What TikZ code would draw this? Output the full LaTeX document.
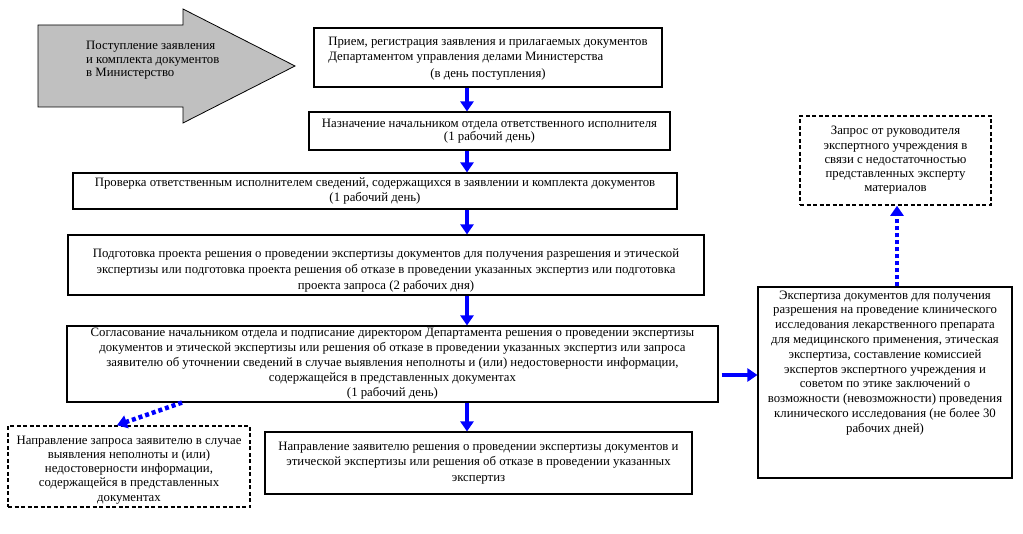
\documentclass[tikz,border=0pt]{standalone}
\usepackage{fontspec}
\setmainfont{Liberation Serif}
\usetikzlibrary{arrows.meta, calc}
\definecolor{flowblue}{RGB}{0, 0, 255}
\definecolor{arrowgray}{RGB}{192, 192, 192}
\tikzset{
  stepbox/.style={draw=black, line width=1.1pt, align=center, inner sep=2pt, font=\fontsize{12.8}{15}\selectfont},
  notebox/.style={stepbox, line width=1.6pt, dash pattern={on 4pt off 2.5pt}, font=\fontsize{12.8}{14.3}\selectfont},
  flowarrow/.style={-{Triangle[width=13pt, length=10pt]}, line width=4.5pt, flowblue},
  notearrow/.style={flowarrow, dash pattern={on 4pt off 3pt}}
}

\begin{document}
\begin{tikzpicture}[x=1pt, y=-1pt]
  \useasboundingbox (0,0) rectangle (1023,534);

  % Incoming documents
  \draw[fill=arrowgray, line width=0.8pt] (38,25) -- (183,25) -- (183,9) -- (295,66)
    -- (183,123) -- (183,107) -- (38,107) -- cycle;
  \node[anchor=west, align=left, inner sep=0pt, font=\fontsize{12.8}{13.5}\selectfont] (incoming) at (86,60.5) {
    Поступление заявления\\
    и комплекта документов\\
    в Министерство
  };

  % Main chain of steps
  \node[stepbox, minimum width=348pt, minimum height=59pt] (reception) at (488,57.5) {
    \begin{tabular}{@{}l@{}}
      Прием, регистрация заявления и прилагаемых документов\\
      Департаментом управления делами Министерства
    \end{tabular}\\[2pt]
    (в день поступления)
  };
  \node[stepbox, minimum width=361pt, minimum height=38pt, font=\fontsize{12.8}{13}\selectfont] (assign) at (489.5,131) {
    Назначение начальником отдела ответственного исполнителя\\
    (1 рабочий день)
  };
  \node[stepbox, minimum width=604pt, minimum height=36pt] (check) at (375,191) {
    Проверка ответственным исполнителем сведений, содержащихся в заявлении и комплекта документов\\
    (1 рабочий день)
  };
  \node[stepbox, minimum width=636pt, minimum height=60pt, font=\fontsize{12.8}{16}\selectfont] (draft) at (386,265) {
    \rule{0pt}{19pt}Подготовка проекта решения о проведении экспертизы документов для получения разрешения и этической\\
    экспертизы или подготовка проекта решения об отказе в проведении указанных экспертиз или подготовка\\
    проекта запроса (2 рабочих дня)
  };
  \node[stepbox, minimum width=651pt, minimum height=76pt] (approve) at (392.5,364) {
    Согласование начальником отдела и подписание директором Департамента решения о проведении экспертизы\\
    документов и этической экспертизы или решения об отказе в проведении указанных экспертиз или запроса\\
    заявителю об уточнении сведений в случае выявления неполноты и (или) недостоверности информации,\\
    содержащейся в представленных документах\\
    (1 рабочий день)
  };
  \node[stepbox, minimum width=427pt, minimum height=62pt, font=\fontsize{12.8}{15.5}\selectfont] (notify) at (478.5,463) {
    Направление заявителю решения о проведении экспертизы документов и\\
    этической экспертизы или решения об отказе в проведении указанных\\
    экспертиз
  };

  % Side branches
  \node[notebox, minimum width=242pt, minimum height=81pt] (request) at (129,466.5) {
    \rule{0pt}{15pt}Направление запроса заявителю в случае\\
    выявления неполноты и (или)\\
    недостоверности информации,\\
    содержащейся в представленных\\
    документах
  };
  \node[stepbox, minimum width=254pt, minimum height=191pt,
    label={[anchor=north, align=center, inner sep=2pt, yshift=-2pt, font=\fontsize{12.8}{14.8}\selectfont]north:{
      Экспертиза документов для получения\\
      разрешения на проведение клинического\\
      исследования лекарственного препарата\\
      для медицинского применения, этическая\\
      экспертиза, составление комиссией\\
      экспертов экспертного учреждения и\\
      советом по этике заключений о\\
      возможности (невозможности) проведения\\
      клинического исследования (не более 30\\
      рабочих дней)}}] (expertise) at (885,382.5) {};
  \node[notebox, minimum width=191pt, minimum height=89pt] (expertq) at (895.5,160.5) {
    Запрос от руководителя\\
    экспертного учреждения в\\
    связи с недостаточностью\\
    представленных эксперту\\
    материалов
  };

  % Arrows
  \coordinate (spine) at (467,0);
  \draw[flowarrow] (reception.south -| spine) -- (assign.north -| spine);
  \draw[flowarrow] (assign.south -| spine) -- (check.north -| spine);
  \draw[flowarrow] (check.south -| spine) -- (draft.north -| spine);
  \draw[flowarrow] (draft.south -| spine) -- (approve.north -| spine);
  \draw[flowarrow] (approve.south -| spine) -- (notify.north -| spine);
  \draw[flowarrow] ([xshift=3pt]approve.east |- 0,375) -- (expertise.west |- 0,375);
  \draw[notearrow] (approve.south -| 182,0) -- ([xshift=-12pt]request.north);
  \draw[notearrow] (expertise.north -| 897,0) -- (expertq.south -| 897,0);
\end{tikzpicture}
\end{document}
